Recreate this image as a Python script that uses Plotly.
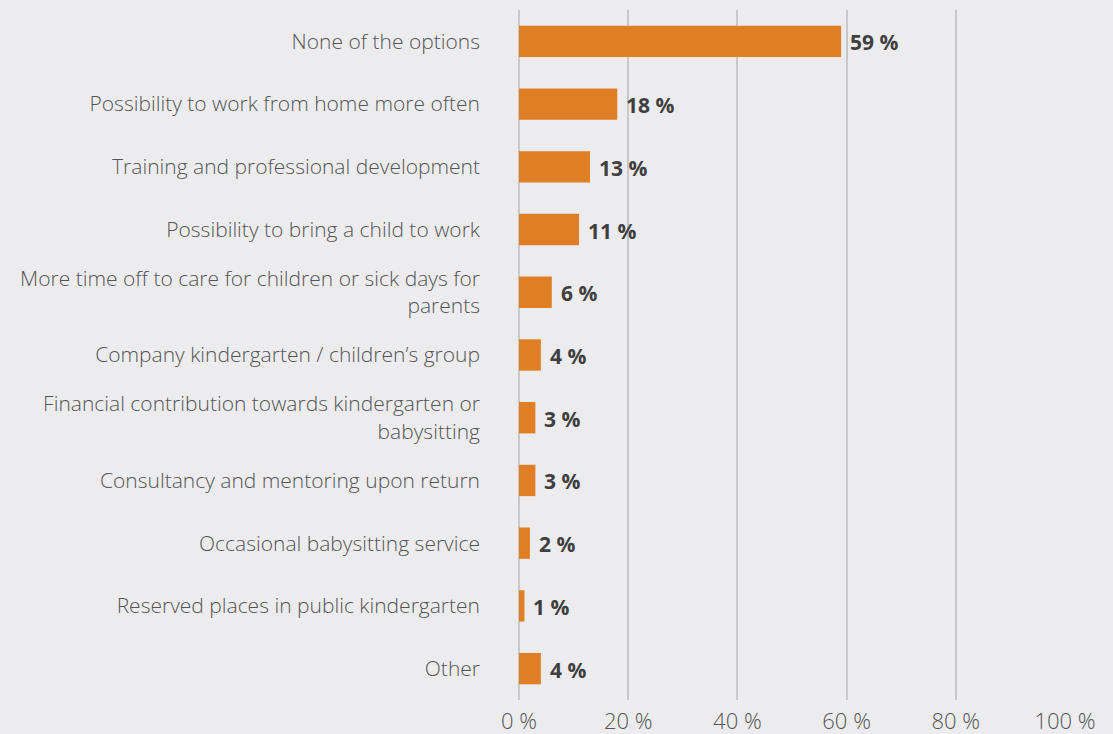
import plotly.graph_objects as go

categories = [
    "None of the options",
    "Possibility to work from home more often",
    "Training and professional development",
    "Possibility to bring a child to work",
    "More time off to care for children or sick days for<br>parents",
    "Company kindergarten / children’s group",
    "Financial contribution towards kindergarten or<br>babysitting",
    "Consultancy and mentoring upon return",
    "Occasional babysitting service",
    "Reserved places in public kindergarten",
    "Other",
]
values = [59, 18, 13, 11, 6, 4, 3, 3, 2, 1, 4]
tick_vals = [0, 20, 40, 60, 80, 100]
tick_text = ["0 %", "20 %", "40 %", "60 %", "80 %", "100 %"]

BG = "#ECECEE"
BAR = "#E07E26"
TEXT = "#555555"
FONT = "Open Sans"

fig = go.Figure(
    go.Bar(
        x=values,
        y=categories,
        orientation="h",
        width=0.5,
        marker=dict(color=BAR, line=dict(width=0)),
        hoverinfo="skip",
    )
)

# value labels just right of each bar end
for cat, v in zip(categories, values):
    fig.add_annotation(
        x=v, y=cat, text=f"<b>{v} %</b>",
        xanchor="left", yanchor="middle", xshift=7, yshift=-1, showarrow=False,
        font=dict(family=FONT, size=21, color="#3F3F3F"),
    )

fig.update_layout(
    width=1113,
    height=734,
    paper_bgcolor=BG,
    plot_bgcolor=BG,
    margin=dict(l=519, r=48, t=10, b=34),
    showlegend=False,
    font=dict(family=FONT, size=21, color=TEXT),
)

fig.update_xaxes(
    range=[0, 100],
    tickvals=tick_vals,
    ticktext=tick_text,
    showgrid=True,
    gridcolor="#C8C8C8",
    gridwidth=1.5,
    zeroline=True,
    zerolinecolor="#C8C8C8",
    zerolinewidth=1.5,
    showline=False,
    ticks="",
    ticklabelstandoff=6,
    automargin=False,
    tickfont=dict(family=FONT, size=22, color=TEXT, weight=300),
)

fig.update_yaxes(
    categoryorder="array",
    categoryarray=categories[::-1],
    autorange=False,
    range=[-0.5, len(categories) - 0.5],
    showgrid=False,
    zeroline=False,
    showline=False,
    ticks="",
    ticklabelstandoff=38,
    automargin=False,
    tickfont=dict(family=FONT, size=21, color=TEXT, weight=300),
)

fig.write_html("out.html")
